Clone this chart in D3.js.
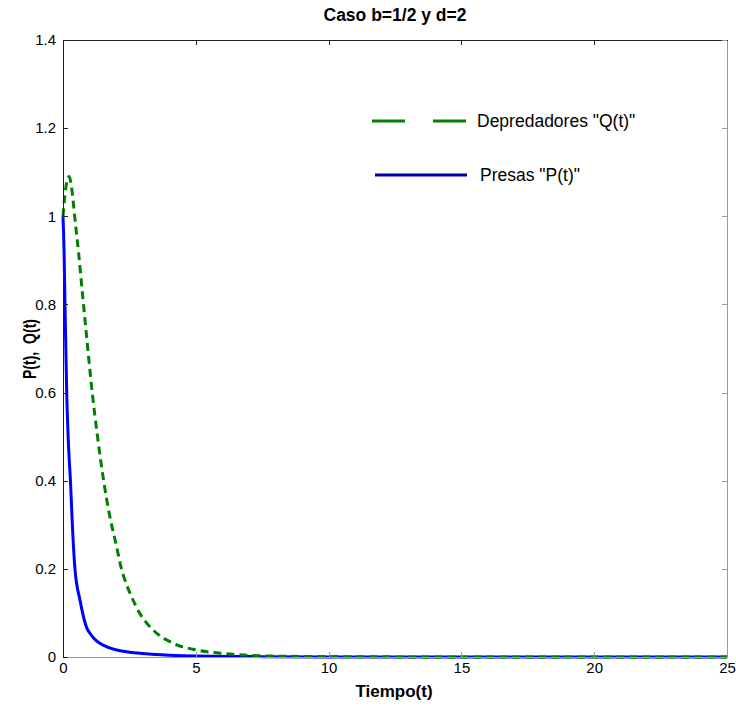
<!DOCTYPE html>
<html>
<head>
<meta charset="utf-8">
<script src="https://cdn.jsdelivr.net/npm/d3@7"></script>
<style>
  body { margin: 0; background: #fff; }
  text { font-family: "Liberation Sans", Arial, sans-serif; }
</style>
</head>
<body>
<script>
// time samples and series
const tQ = [0, 0.05, 0.1, 0.15, 0.23, 0.3, 0.38, 0.44, 0.59, 0.74, 0.9, 1.1, 1.3, 1.53, 1.74, 2.02, 2.2, 2.33, 2.58, 2.89, 3.4, 4.15, 5.03, 6, 7, 8, 10, 15, 20, 25];
const qVals = [1.0, 1.035, 1.062, 1.08, 1.09, 1.075, 1.036, 1.0, 0.915, 0.82, 0.72, 0.6, 0.5, 0.4, 0.326, 0.25, 0.2, 0.175, 0.137, 0.099, 0.061, 0.031, 0.016, 0.008, 0.004, 0.002, 0.001, 0, 0, 0];
const tP = [0, 0.04, 0.075, 0.14, 0.2, 0.28, 0.36, 0.45, 0.64, 0.9, 1.0, 1.2, 1.39, 1.7, 2.02, 2.5, 3, 4, 5, 7, 10, 15, 20, 25];
const pVals = [1.0, 0.92, 0.8, 0.6, 0.49, 0.4, 0.29, 0.2, 0.129, 0.065, 0.055, 0.04, 0.031, 0.022, 0.016, 0.011, 0.008, 0.004, 0.002, 0.001, 0, 0, 0, 0];
const xTicks = [0, 5, 10, 15, 20, 25];
const yTicks = [0, 0.2, 0.4, 0.6, 0.8, 1, 1.2, 1.4];
const title = "Caso b=1/2 y d=2";
const xLabel = "Tiempo(t)";
const yLabel = "P(t),  Q(t)";
const seriesNames = ['Depredadores "Q(t)"', 'Presas "P(t)"'];

const width = 736, height = 709;
const margin = {top: 40, right: 9, bottom: 52, left: 63};

const svg = d3.select("body").append("svg")
    .attr("width", width)
    .attr("height", height);

const x = d3.scaleLinear().domain([0, 25]).range([margin.left, width - margin.right]);
const y = d3.scaleLinear().domain([0, 1.4]).range([height - margin.bottom, margin.top]);

// curves
const line = d3.line()
    .x(d => x(d[0]))
    .y(d => y(d[1]))
    .curve(d3.curveMonotoneX);

svg.append("path")
    .datum(tP.map((t, i) => [t, pVals[i]]))
    .attr("fill", "none")
    .attr("stroke", "#0000ff")
    .attr("stroke-width", 3)
    .attr("d", line);

svg.append("path")
    .datum(tQ.map((t, i) => [t, qVals[i]]))
    .attr("fill", "none")
    .attr("stroke", "#008000")
    .attr("stroke-width", 3)
    .attr("stroke-dasharray", "8,5")
    .attr("d", line);

// axes (box with inward ticks)
const fmt = d => d3.format("")(+d.toFixed(1));
const gx = svg.append("g")
    .attr("transform", `translate(0,${y(0)})`)
    .call(d3.axisBottom(x).tickValues(xTicks).tickSizeInner(-5).tickSizeOuter(0).tickPadding(5));
const gxTop = svg.append("g")
    .attr("transform", `translate(0,${y(1.4)})`)
    .call(d3.axisTop(x).tickValues(xTicks).tickSizeInner(-5).tickSizeOuter(0).tickFormat(""));
const gy = svg.append("g")
    .attr("transform", `translate(${x(0)},0)`)
    .call(d3.axisLeft(y).tickValues(yTicks).tickSizeInner(-5).tickSizeOuter(0).tickPadding(7).tickFormat(fmt));
const gyRight = svg.append("g")
    .attr("transform", `translate(${x(25)},0)`)
    .call(d3.axisRight(y).tickValues(yTicks).tickSizeInner(-5).tickSizeOuter(0).tickFormat(""));

[gx, gxTop, gy, gyRight].forEach(g => {
    g.attr("shape-rendering", "crispEdges");
    g.selectAll("text").attr("fill", "#000").style("font-size", "15px");
});
gx.selectAll("path, line").attr("stroke", "#999");
gyRight.selectAll("path, line").attr("stroke", "#999");
gy.selectAll("path, line").attr("stroke", "#222");
gxTop.selectAll("path, line").attr("stroke", "#222");

// titles
svg.append("text")
    .attr("x", 395).attr("y", 21)
    .attr("text-anchor", "middle")
    .style("font-size", "17.5px").style("font-weight", "bold")
    .text(title);

svg.append("text")
    .attr("x", 394).attr("y", 697)
    .attr("text-anchor", "middle")
    .style("font-size", "17px").style("font-weight", "bold")
    .text(xLabel);

svg.append("text")
    .attr("transform", `translate(36,349) rotate(-90) scale(0.78,1)`)
    .attr("text-anchor", "middle")
    .style("font-size", "18px").style("font-weight", "bold")
    .style("white-space", "pre")
    .text(yLabel);

// legend
const legend = svg.append("g");
legend.append("line")
    .attr("x1", 372).attr("x2", 467).attr("y1", 121).attr("y2", 121)
    .attr("stroke", "#008000").attr("stroke-width", 3)
    .attr("stroke-dasharray", "33,28");
legend.append("text")
    .attr("x", 477).attr("y", 127)
    .style("font-size", "17.5px")
    .text(seriesNames[0]);
legend.append("line")
    .attr("x1", 375).attr("x2", 467).attr("y1", 175).attr("y2", 175)
    .attr("stroke", "#0000a0").attr("stroke-width", 3);
legend.append("text")
    .attr("x", 480).attr("y", 181)
    .style("font-size", "17.5px")
    .text(seriesNames[1]);
</script>
</body>
</html>
